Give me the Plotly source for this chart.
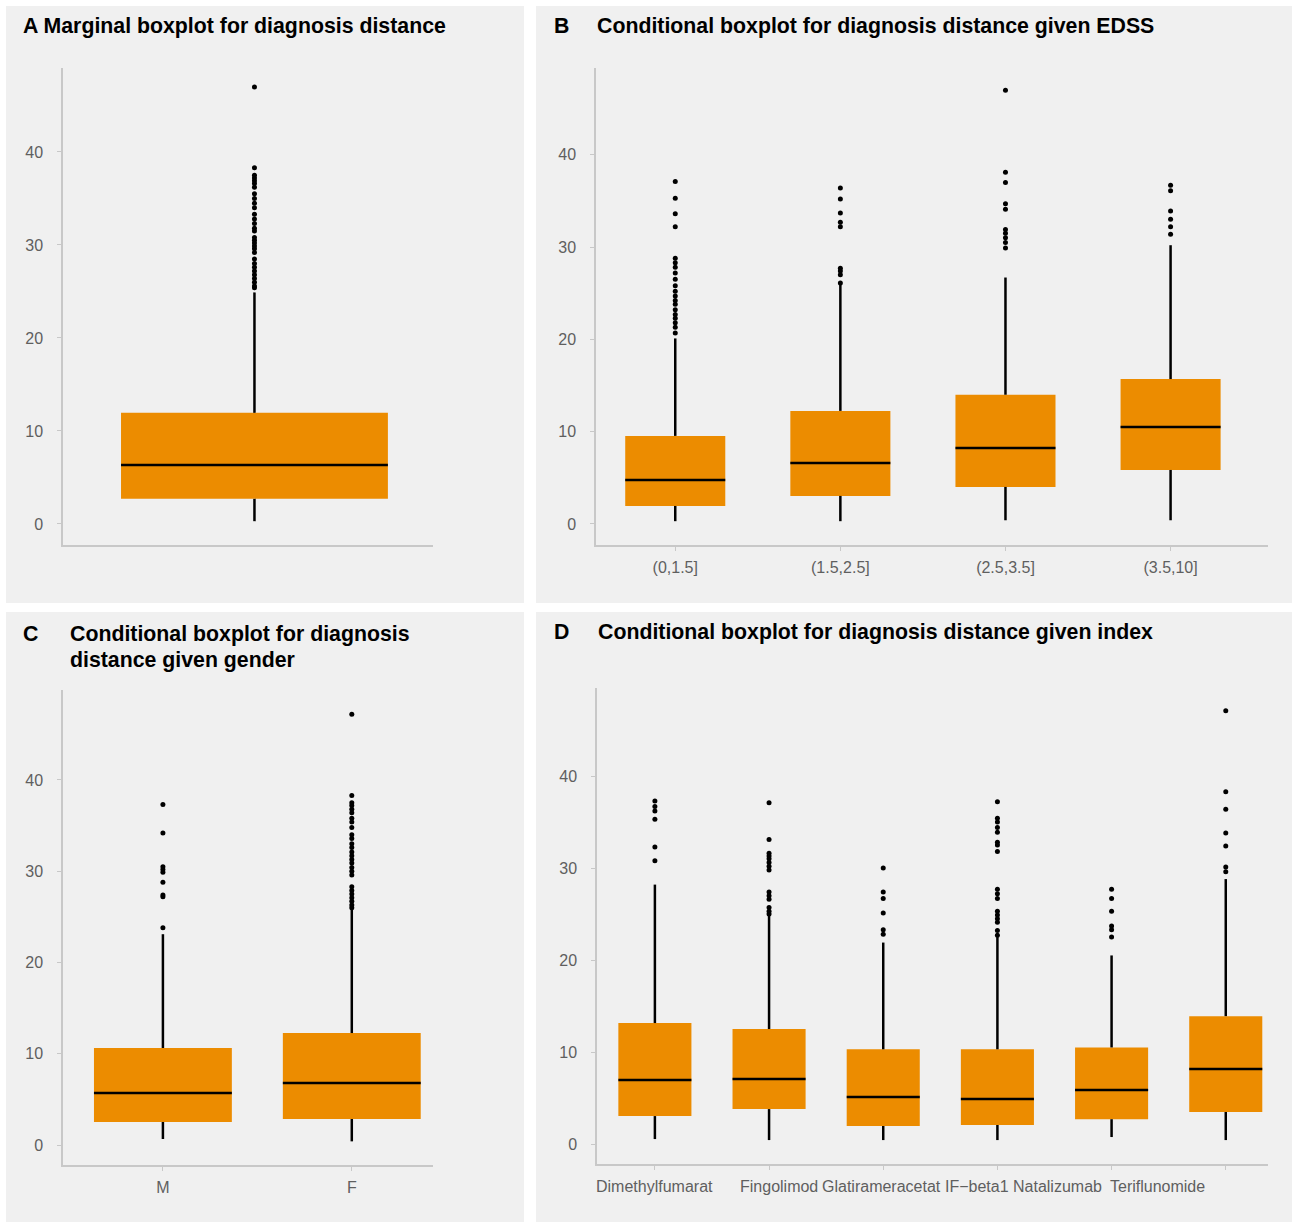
import plotly.graph_objects as go

W, H = 1293, 1223
ORANGE = "#EC8C00"
PANEL_BG = "#F0F0F0"
AXIS_GREY = "#C8C8C8"
TICK_TXT = "#5F5F5F"
FONT = "Liberation Sans, Arial, sans-serif"

# ---------------- data: diagnosis distance summaries ----------------
# A: marginal
a_labels = [""]
a_q1 = [2.7]
a_med = [6.35]
a_q3 = [11.95]
a_lo = [0.3]
a_hi = [24.9]
a_out = [[47.0, 38.3, 37.5, 37.2, 36.9, 36.6, 36.2, 35.5, 35.0, 34.5, 34.0,
          33.3, 32.8, 32.3, 31.8, 31.5, 30.8, 30.5, 30.2, 29.9, 29.6, 29.2,
          28.5, 28.0, 27.6, 27.2, 26.8, 26.4, 26.0, 25.6, 25.4]]

# B: given EDSS
b_labels = ["(0,1.5]", "(1.5,2.5]", "(2.5,3.5]", "(3.5,10]"]
b_q1 = [1.95, 3.04, 4.01, 5.85]
b_med = [4.77, 6.61, 8.24, 10.5]
b_q3 = [9.54, 12.25, 14.0, 15.7]
b_lo = [0.3, 0.3, 0.4, 0.4]
b_hi = [20.1, 26.0, 26.7, 30.2]
b_out = [
    [37.1, 35.3, 33.6, 32.2, 28.8, 28.3, 27.8, 27.2, 26.5, 25.8, 25.2, 24.7,
     24.2, 23.8, 23.2, 22.7, 22.3, 21.8, 21.3, 20.7],
    [36.4, 35.2, 33.7, 32.7, 32.2, 27.7, 27.4, 27.0, 26.1],
    [47.0, 38.1, 37.0, 34.7, 34.1, 31.9, 31.5, 31.0, 30.5, 29.9],
    [36.7, 36.1, 33.9, 33.0, 32.2, 31.4],
]

# C: given gender
c_labels = ["M", "F"]
c_q1 = [2.52, 2.85]
c_med = [5.70, 6.79]
c_q3 = [10.63, 12.27]
c_lo = [0.66, 0.4]
c_hi = [23.1, 25.9]
c_out = [
    [37.3, 34.2, 30.5, 30.2, 29.9, 28.8, 27.4, 27.2, 23.8],
    [47.2, 38.3, 37.5, 37.2, 36.8, 36.4, 35.8, 35.4, 34.8, 34.0, 33.6, 33.0,
     32.6, 32.1, 31.7, 31.3, 30.9, 30.4, 30.0, 29.6, 28.3, 27.9, 27.5, 27.1,
     26.7, 26.3, 26.0],
]

# D: given index drug
d_labels = ["Dimethylfumarat", "Fingolimod", "Glatirameracetat", "IF\u2212beta1",
            "Natalizumab", "Teriflunomide"]
d_q1 = [3.04, 3.8, 1.96, 2.07, 2.7, 3.48]
d_med = [6.96, 7.07, 5.1, 4.9, 5.87, 8.15]
d_q3 = [13.15, 12.5, 10.3, 10.3, 10.5, 13.9]
d_lo = [0.54, 0.43, 0.43, 0.43, 0.76, 0.43]
d_hi = [28.2, 24.8, 21.9, 22.5, 20.5, 28.8]
d_out = [
    [37.3, 36.7, 36.2, 35.3, 32.3, 30.8],
    [37.1, 33.1, 31.6, 31.3, 31.0, 30.6, 30.2, 29.8, 27.4, 27.0, 26.6, 25.7,
     25.3, 25.0],
    [30.0, 27.4, 26.7, 25.1, 23.3, 22.8],
    [37.2, 35.4, 35.0, 34.4, 33.9, 32.8, 32.5, 31.8, 27.7, 27.2, 26.7, 25.3,
     24.9, 24.5, 24.1, 23.2, 22.7],
    [27.7, 26.7, 25.3, 23.7, 23.3, 22.5],
    [47.1, 38.3, 36.4, 33.8, 32.4, 30.1, 29.6],
]

y_ticks = [0, 10, 20, 30, 40]

fig = go.Figure()


def px_x(p):
    return p / W


def px_y(p):
    return 1 - p / H


def add_boxes(ax, q1, med, q3, lo, hi, out, width):
    xa = "x" if ax == 1 else f"x{ax}"
    ya = "y" if ax == 1 else f"y{ax}"
    pos = list(range(1, len(q1) + 1))
    fig.add_trace(go.Bar(
        x=pos, y=[b - a for a, b in zip(q1, q3)], base=q1, width=width,
        marker=dict(color=ORANGE, line=dict(width=0)),
        xaxis=xa, yaxis=ya, showlegend=False, hoverinfo="skip"))
    wx, wy = [], []
    for p, a, b, l, h in zip(pos, q1, q3, lo, hi):
        wx += [p, p, None, p, p, None]
        wy += [b, h, None, a, l, None]
    fig.add_trace(go.Scatter(x=wx, y=wy, mode="lines",
                             line=dict(color="black", width=2.5),
                             xaxis=xa, yaxis=ya, showlegend=False))
    mx, my = [], []
    for p, m in zip(pos, med):
        mx += [p - width / 2, p + width / 2, None]
        my += [m, m, None]
    fig.add_trace(go.Scatter(x=mx, y=my, mode="lines",
                             line=dict(color="black", width=2.5),
                             xaxis=xa, yaxis=ya, showlegend=False))
    ox, oy = [], []
    for p, vals in zip(pos, out):
        ox += [p] * len(vals)
        oy += vals
    fig.add_trace(go.Scatter(x=ox, y=oy, mode="markers",
                             marker=dict(color="black", size=5),
                             xaxis=xa, yaxis=ya, showlegend=False))


add_boxes(1, a_q1, a_med, a_q3, a_lo, a_hi, a_out, 0.867)
add_boxes(2, b_q1, b_med, b_q3, b_lo, b_hi, b_out, 0.606)
add_boxes(3, c_q1, c_med, c_q3, c_lo, c_hi, c_out, 0.73)
add_boxes(4, d_q1, d_med, d_q3, d_lo, d_hi, d_out, 0.64)

TICK_SIZE = 16


def axis_common():
    return dict(showline=True, linecolor=AXIS_GREY, linewidth=1.5,
                ticks="outside", ticklen=4, tickcolor=AXIS_GREY, tickwidth=1,
                showgrid=False, zeroline=False, fixedrange=True,
                tickfont=dict(family=FONT, size=TICK_SIZE, color=TICK_TXT))


# plot-area pixel boxes: (left, right, top, bottom)
boxes = {
    1: (63, 433, 68, 545),
    2: (596, 1268, 68, 545),
    3: (63, 433, 690, 1165),
    4: (597, 1268, 688, 1164),
}
x_ranges = {1: [0.378, 1.58], 2: [0.52, 4.59], 3: [0.471, 2.43], 4: [0.493, 6.37]}
y_ranges = {1: [-2.26, 49.03], 2: [-2.28, 49.4], 3: [-2.19, 49.86], 4: [-2.17, 49.57]}
x_text = {1: a_labels, 2: b_labels, 3: c_labels, 4: [""] * len(d_labels)}

layout = dict(
    width=W, height=H, margin=dict(l=0, r=0, t=0, b=0),
    paper_bgcolor="white", plot_bgcolor=PANEL_BG, barmode="overlay",
    showlegend=False, font=dict(family=FONT),
)
for k, (l, r, t, b) in boxes.items():
    sfx = "" if k == 1 else str(k)
    xa = axis_common()
    xa.update(domain=[px_x(l), px_x(r)], range=x_ranges[k],
              anchor="y" + sfx, ticklabelstandoff=3,
              tickvals=list(range(1, len(x_text[k]) + 1)), ticktext=x_text[k])
    if k == 1:
        xa.update(ticks="", showticklabels=False)
    ya = axis_common()
    ya.update(domain=[px_y(b), px_y(t)], range=y_ranges[k],
              anchor="x" + sfx, tickvals=y_ticks, ticklabelstandoff=11)
    layout["xaxis" + sfx] = xa
    layout["yaxis" + sfx] = ya
fig.update_layout(**layout)

# panel backgrounds
panels = [(6, 524, 6, 603), (536, 1292, 6, 603), (6, 524, 612, 1222), (536, 1292, 612, 1222)]
for l, r, t, b in panels:
    fig.add_shape(type="rect", xref="paper", yref="paper",
                  x0=px_x(l), x1=px_x(r), y0=px_y(b), y1=px_y(t),
                  fillcolor=PANEL_BG, line=dict(width=0), layer="below")

title_font = dict(family=FONT, size=21.3, color="black")


def add_text(text, x, y, font, anchor="left"):
    fig.add_annotation(text=text, xref="paper", yref="paper", x=px_x(x), y=px_y(y),
                       xanchor=anchor, yanchor="middle", showarrow=False, font=font)


add_text("<b>A Marginal boxplot for diagnosis distance</b>", 21, 26, title_font)
add_text("<b>B</b>", 552, 26, title_font)
add_text("<b>Conditional boxplot for diagnosis distance given EDSS</b>", 595, 26, title_font)
add_text("<b>C</b>", 21, 634, title_font)
add_text("<b>Conditional boxplot for diagnosis</b>", 68, 634, title_font)
add_text("<b>distance given gender</b>", 68, 660, title_font)
add_text("<b>D</b>", 552, 632, title_font)
add_text("<b>Conditional boxplot for diagnosis distance given index</b>", 596, 632, title_font)

# index-drug labels, spread so the long names do not collide
d_label_px = [654.5, 779, 881.5, 977, 1057.5, 1157]
for lab, cx in zip(d_labels, d_label_px):
    add_text(lab, cx, 1186, dict(family=FONT, size=TICK_SIZE, color=TICK_TXT), anchor="center")

fig.write_html("out.html")
